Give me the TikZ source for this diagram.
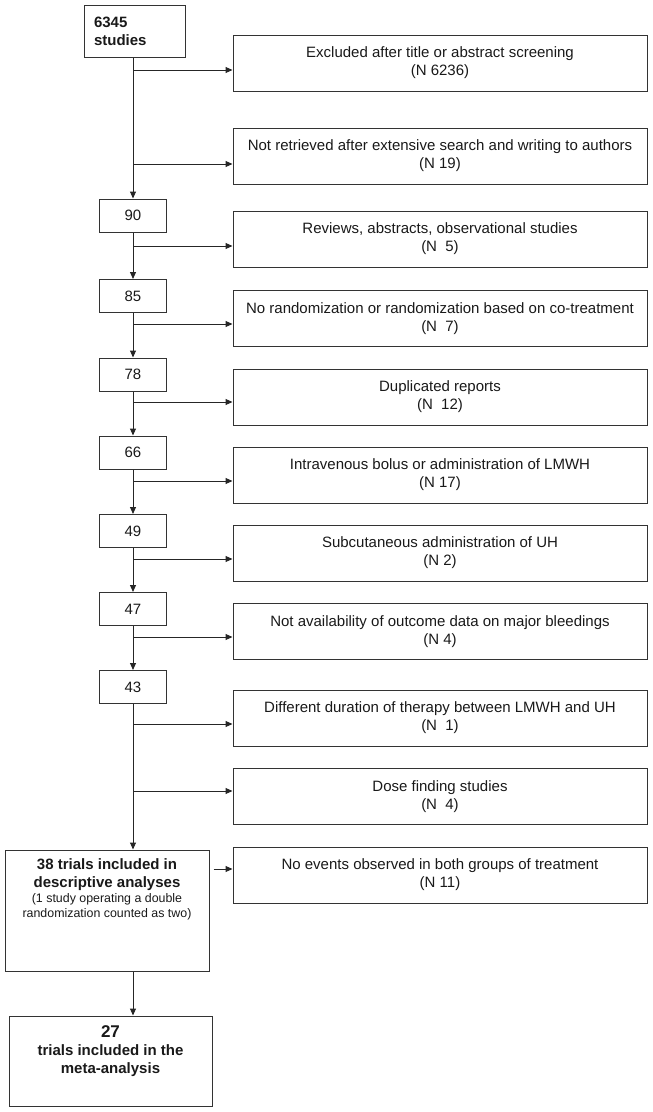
\documentclass[tikz,border=0pt]{standalone}
\usepackage{fontspec}
\setmainfont{Liberation Sans}
\usetikzlibrary{arrows.meta,calc}
\tikzset{
%Define standard arrow tip
>={Triangle[length=7pt,width=6pt]},
%Define styles for the boxes and lines
box/.style={draw=black!80, line width=1pt, text=black!90},
stage box/.style={box, minimum width=67pt, minimum height=33pt, inner sep=0pt, font=\fontsize{15}{18}\selectfont},
exclusion box/.style={box, minimum width=414pt, minimum height=56pt, inner sep=2pt, align=center, font=\fontsize{15}{18}\selectfont},
flow line/.style={->, line width=1pt, black!85},
}

\begin{document}
\begin{tikzpicture}[x=1pt,y=-1pt]
    \useasboundingbox (0,0) rectangle (653,1112);

    % Left column: studies left at each stage
    \node[box, minimum width=101pt, minimum height=52pt, inner sep=10pt, text width=81pt, align=left,
          font=\fontsize{15}{18}\selectfont\bfseries] (start) at (134.5,31) {6345\\studies};
    \node[stage box] (n90) at (133,215.5) {90};
    \node[stage box] (n85) at (133,296) {85};
    \node[stage box] (n78) at (133,374.5) {78};
    \node[stage box] (n66) at (133,452.5) {66};
    \node[stage box] (n49) at (133,531) {49};
    \node[stage box] (n47) at (133,609) {47};
    \node[stage box] (n43) at (133,687) {43};
    \node[box, inner sep=0pt, minimum width=204pt, minimum height=121pt] (n38) at (107,910.5)
      {\parbox[c][103pt][t]{196pt}{\centering
        {\fontsize{15}{18}\selectfont\bfseries 38 trials included in\\descriptive analyses\par}
        {\fontsize{12.4}{15}\selectfont (1 study operating a double\\randomization counted as two)\par}}};
    \node[box, inner sep=0pt, minimum width=203pt, minimum height=90pt] (n27) at (110.5,1061)
      {\parbox[c][70pt][t]{195pt}{\centering\bfseries
        {\fontsize{17}{20}\selectfont 27\par}
        {\fontsize{15}{18}\selectfont trials included in the\\meta-analysis\par}}};

    % Right column: excluded studies
    \node[exclusion box] (ex1) at (440,63) {Excluded after title or abstract screening\\(N 6236)};
    \node[exclusion box] (ex2) at (440,156) {Not retrieved after extensive search and writing to authors\\(N 19)};
    \node[exclusion box] (ex3) at (440,239) {Reviews, abstracts, observational studies\\(N\ \ 5)};
    \node[exclusion box] (ex4) at (440,318.5) {No randomization or randomization based on co-treatment\\(N\ \ 7)};
    \node[exclusion box] (ex5) at (440,397) {Duplicated reports\\(N\ \ 12)};
    \node[exclusion box] (ex6) at (440,475) {Intravenous bolus or administration of LMWH\\(N 17)};
    \node[exclusion box] (ex7) at (440,553) {Subcutaneous administration of UH\\(N 2)};
    \node[exclusion box] (ex8) at (440,631.5) {Not availability of outcome data on major bleedings\\(N 4)};
    \node[exclusion box] (ex9) at (440,718) {Different duration of therapy between LMWH and UH\\(N\ \ 1)};
    \node[exclusion box] (ex10) at (440,796.5) {Dose finding studies\\(N\ \ 4)};
    \node[exclusion box] (ex11) at (440,875) {No events observed in both groups of treatment\\(N 11)};

    % Main flow
    \draw[flow line] (start.south -| n90.north) -- (n90.north);
    \draw[flow line] (n90) -- (n85);
    \draw[flow line] (n85) -- (n78);
    \draw[flow line] (n78) -- (n66);
    \draw[flow line] (n66) -- (n49);
    \draw[flow line] (n49) -- (n47);
    \draw[flow line] (n47) -- (n43);
    \draw[flow line] (n43.south) -- (n43.south |- n38.north);
    \draw[flow line] (n38.south -| n43) -- (n27.north -| n43);

    % Branch points on the main line
    \path
    coordinate (j1) at (133,70)
    coordinate (j2) at (133,164)
    coordinate (j3) at (133,246)
    coordinate (j4) at (133,324)
    coordinate (j5) at (133,402)
    coordinate (j6) at (133,481)
    coordinate (j7) at (133,559)
    coordinate (j8) at (133,637)
    coordinate (j9) at (133,724)
    coordinate (j10) at (133,791)
    coordinate (j11) at ($(n38.east)+(4,-41.5)$);

    % Exclusions
    \draw[flow line] (j1) -- (j1 -| ex1.west);
    \draw[flow line] (j2) -- (j2 -| ex2.west);
    \draw[flow line] (j3) -- (j3 -| ex3.west);
    \draw[flow line] (j4) -- (j4 -| ex4.west);
    \draw[flow line] (j5) -- (j5 -| ex5.west);
    \draw[flow line] (j6) -- (j6 -| ex6.west);
    \draw[flow line] (j7) -- (j7 -| ex7.west);
    \draw[flow line] (j8) -- (j8 -| ex8.west);
    \draw[flow line] (j9) -- (j9 -| ex9.west);
    \draw[flow line] (j10) -- (j10 -| ex10.west);
    \draw[flow line] (j11) -- (j11 -| ex11.west);
\end{tikzpicture}
\end{document}
